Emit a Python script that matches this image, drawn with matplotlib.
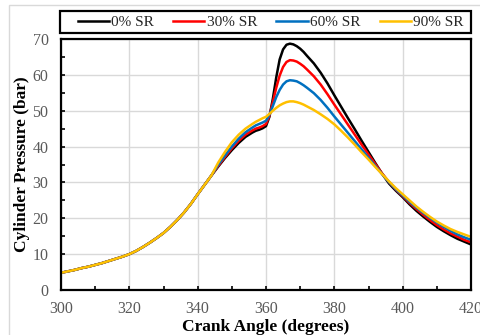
import matplotlib
matplotlib.use("Agg")
import matplotlib.pyplot as plt
from matplotlib.patches import Rectangle
from matplotlib.ticker import MultipleLocator

crank_angle = [300, 302, 304, 306, 308, 310, 312, 314, 316, 318, 320, 322, 324, 326, 328,
               330, 332, 334, 336, 338, 340, 342, 344, 346, 348, 350, 352, 354, 356,
               357, 358, 359, 360, 361, 362, 363, 364, 365, 366, 367, 368, 369, 370, 371, 372,
               374, 376, 378, 380, 382, 384, 386, 388, 390, 392, 394, 396, 398, 400,
               402, 404, 406, 408, 410, 412, 414, 416, 418, 420]

common = [4.8, 5.2, 5.6, 6.1, 6.5, 7.0, 7.5, 8.1, 8.7, 9.3, 10.0, 10.9, 12.0, 13.2, 14.5,
          15.9, 17.6, 19.5, 21.6, 24.0, 26.7, 29.3, 31.9]

sr0 = common + [34.4, 36.8, 39.0, 41.0, 42.7, 43.9,
                44.4, 44.7, 45.1, 45.7, 48.3, 53.3, 59.3, 64.3, 67.1, 68.4, 68.7, 68.5, 68.0, 67.3, 66.4, 65.3,
                63.2, 60.6, 57.6, 54.3, 51.1, 47.9, 44.8, 41.6, 38.5, 35.4, 32.4, 29.7, 27.7, 25.9,
                23.9, 22.1, 20.5, 19.0, 17.6, 16.4, 15.3, 14.3, 13.5, 12.7]

sr30 = common + [34.6, 37.1, 39.5, 41.6, 43.3, 44.5,
                 45.0, 45.3, 45.7, 46.3, 48.6, 52.4, 56.4, 59.8, 62.2, 63.6, 64.1, 64.0, 63.7, 63.1, 62.4, 61.5,
                 59.6, 57.3, 54.6, 51.7, 48.9, 46.1, 43.3, 40.5, 37.8, 35.1, 32.5, 30.1, 28.0, 26.2,
                 24.3, 22.6, 21.0, 19.5, 18.1, 16.9, 15.8, 14.9, 14.0, 13.3]

sr60 = common + [34.9, 37.5, 40.0, 42.2, 44.0, 45.3,
                 45.9, 46.3, 46.7, 47.2, 48.9, 51.3, 53.8, 55.8, 57.3, 58.2, 58.5, 58.4, 58.2, 57.7, 57.1, 56.4,
                 54.9, 53.0, 50.8, 48.4, 46.1, 43.8, 41.5, 39.2, 36.9, 34.6, 32.3, 30.1, 28.1, 26.4,
                 24.6, 23.0, 21.5, 20.1, 18.8, 17.6, 16.5, 15.5, 14.7, 14.0]

sr90 = common + [35.5, 38.5, 41.2, 43.3, 45.0, 46.3,
                 46.9, 47.4, 47.9, 48.3, 49.1, 50.0, 50.8, 51.5, 52.0, 52.4, 52.6, 52.6, 52.4, 52.1, 51.7, 51.2,
                 50.2, 49.0, 47.7, 46.2, 44.4, 42.5, 40.5, 38.4, 36.4, 34.3, 32.3, 30.3, 28.4, 26.7,
                 25.0, 23.3, 21.8, 20.4, 19.1, 18.0, 17.0, 16.2, 15.5, 14.8]

labels = ["0% SR", "30% SR", "60% SR", "90% SR"]
series = [sr0, sr30, sr60, sr90]
colors = ["#000000", "#ff0000", "#0070c0", "#ffc000"]

plt.rcParams["font.family"] = ["Liberation Serif", "DejaVu Serif"]

fig = plt.figure(figsize=(4.8, 3.35), dpi=100)
fig.patches.append(Rectangle((9 / 480, -0.1), 1.2, (335 - 5) / 335 + 0.1,
                             transform=fig.transFigure, fill=False,
                             edgecolor="#d9d9d9", linewidth=1.0))

ax = fig.add_axes([61 / 480, 45 / 335, 410 / 480, 251 / 335])
for y, lab, c in zip(series, labels, colors):
    ax.plot(crank_angle, y, color=c, linewidth=1.8, label=lab)

ax.set_xlim(300, 420)
ax.set_ylim(0, 70)
ax.xaxis.set_major_locator(MultipleLocator(20))
ax.xaxis.set_minor_locator(MultipleLocator(10))
ax.yaxis.set_major_locator(MultipleLocator(10))
ax.yaxis.set_minor_locator(MultipleLocator(5))
ax.grid(True, which="major", color="#d9d9d9", linewidth=1.0)
ax.set_axisbelow(True)
ax.tick_params(axis="both", which="both", direction="in", length=3, width=1.2,
               colors="black", labelcolor="#595959", labelsize=11.5)
ax.tick_params(axis="x", which="major", pad=8)
ax.tick_params(axis="y", which="major", pad=9)
for s in ax.spines.values():
    s.set_linewidth(1.6)
    s.set_color("black")

ax.set_xlabel("Crank Angle (degrees)", fontsize=12.5, fontweight="bold")
ax.xaxis.set_label_coords(0.5, (290 - 331) / 251)
ax.xaxis.label.set_verticalalignment("baseline")
ax.set_ylabel("Cylinder Pressure (bar)", fontsize=12.5, fontweight="bold", labelpad=2)

# legend frame
fig.patches.append(Rectangle((60 / 480, (335 - 33) / 335), 411 / 480, 22 / 335,
                             transform=fig.transFigure, fill=False,
                             edgecolor="black", linewidth=1.6))
handles, labs = ax.get_legend_handles_labels()
leg = fig.legend(handles, labs, loc="center left",
                 bbox_to_anchor=(73 / 480, (335 - 22) / 335),
                 ncol=4, borderaxespad=0, frameon=False,
                 fontsize=11, handlelength=2.05, handletextpad=0.15, borderpad=0.3,
                 columnspacing=1.25)
for t in leg.get_texts():
    t.set_color("#262626")

fig.savefig("out.png", dpi=100)
